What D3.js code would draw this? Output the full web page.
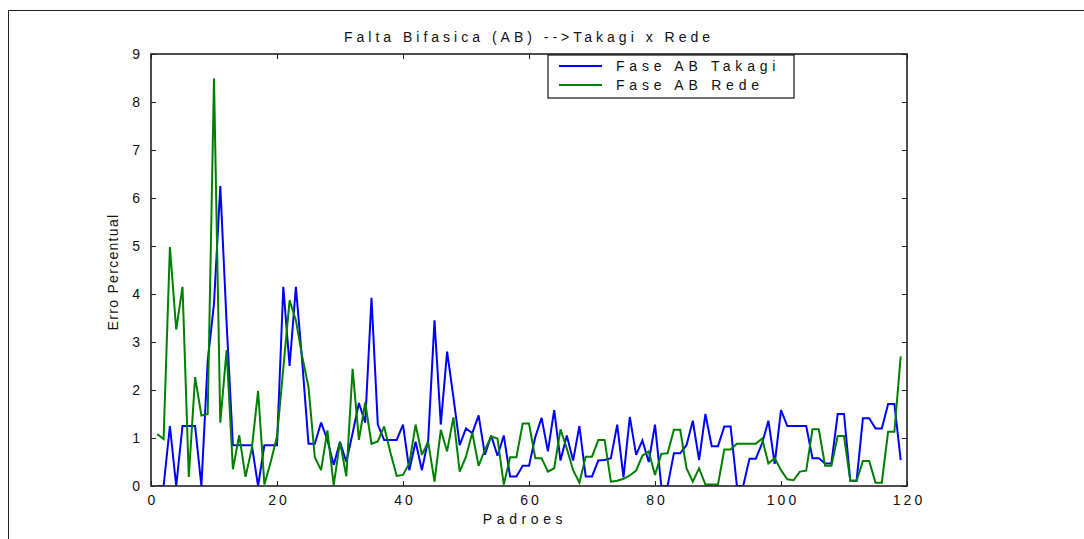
<!DOCTYPE html>
<html>
<head>
<meta charset="utf-8">
<script src="https://cdn.jsdelivr.net/npm/d3@7"></script>
<style>
  html, body { margin: 0; padding: 0; background: #fff; }
  svg { display: block; }
  text { font-family: "Liberation Sans", Arial, Helvetica, sans-serif; fill: #111; }
</style>
</head>
<body>
<svg id="chart" width="1084" height="539"></svg>
<script>
// Pattern index (x) and percentage error for each method
const padroes = d3.range(1, 120);

const takagi = [
  0, 0, 1.25, 0, 1.25, 1.25, 1.25, 0, 2.6, 3.8,
  6.25, 3.4, 0.85, 0.85, 0.85, 0.85, 0, 0.85, 0.85, 0.85,
  4.15, 2.5, 4.15, 2.6, 0.88, 0.88, 1.32, 0.96, 0.44, 0.92,
  0.5, 1.1, 1.73, 1.32, 3.92, 1.28, 0.96, 0.96, 0.96, 1.28,
  0.33, 0.92, 0.33, 0.96, 3.45, 1.28, 2.8, 1.85, 0.85, 1.2,
  1.1, 1.47, 0.65, 1.05, 0.63, 1.05, 0.2, 0.2, 0.42, 0.42,
  1.02, 1.42, 0.72, 1.58, 0.53, 1.05, 0.53, 1.25, 0.2, 0.2,
  0.53, 0.54, 0.58, 1.28, 0.18, 1.44, 0.65, 0.95, 0.5, 1.28,
  0, 0, 0.68, 0.68, 0.85, 1.36, 0.54, 1.5, 0.83, 0.83,
  1.24, 1.24, 0, 0, 0.57, 0.57, 0.89, 1.36, 0.46, 1.58,
  1.25, 1.25, 1.25, 1.25, 0.58, 0.58, 0.47, 0.47, 1.5, 1.5,
  0.11, 0.11, 1.41, 1.41, 1.2, 1.2, 1.71, 1.71, 0.54
];

const rede = [
  1.08, 0.98, 4.98, 3.26, 4.15, 0.19, 2.27, 1.47, 1.5, 8.49,
  1.32, 2.83, 0.35, 1.06, 0.19, 0.78, 1.98, 0.03, 0.5, 1.03,
  2.45, 3.87, 3.45, 2.7, 2.06, 0.6, 0.33, 1.16, 0.02, 0.92,
  0.2, 2.44, 0.96, 1.74, 0.88, 0.93, 1.24, 0.7, 0.21, 0.23,
  0.47, 1.28, 0.65, 0.92, 0.09, 1.17, 0.72, 1.43, 0.3, 0.61,
  1.11, 0.42, 0.75, 1.03, 0.99, 0.03, 0.6, 0.6, 1.3, 1.3,
  0.58, 0.58, 0.3, 0.37, 1.18, 0.78, 0.33, 0.07, 0.61, 0.61,
  0.96, 0.96, 0.09, 0.11, 0.15, 0.22, 0.32, 0.63, 0.72, 0.23,
  0.67, 0.68, 1.17, 1.17, 0.37, 0.09, 0.37, 0.03, 0.03, 0.03,
  0.76, 0.76, 0.88, 0.88, 0.88, 0.88, 0.99, 0.47, 0.58, 0.33,
  0.14, 0.12, 0.3, 0.32, 1.18, 1.18, 0.42, 0.42, 1.04, 1.04,
  0.11, 0.11, 0.52, 0.52, 0.07, 0.07, 1.13, 1.13, 2.7
];

const xTicks = [0, 20, 40, 60, 80, 100, 120];
const yTicks = [0, 1, 2, 3, 4, 5, 6, 7, 8, 9];

const seriesNames = ["Fase AB Takagi", "Fase AB Rede"];
const seriesColors = ["#0000ff", "#008000"];

const titleText = "Falta Bifasica (AB) -->Takagi x Rede";
const xLabel = "Padroes";
const yLabel = "Erro Percentual";

const svg = d3.select("#chart");
const W = 1084, H = 539;
const plot = { left: 151, right: 907, top: 54, bottom: 486 };

// outer figure frame (left and top edges)
svg.append("path")
  .attr("d", `M8.5,${H} L8.5,10.5 L${W},10.5`)
  .attr("fill", "none").attr("stroke", "#222").attr("stroke-width", 1);

const x = d3.scaleLinear().domain([0, 120]).range([plot.left, plot.right]);
const y = d3.scaleLinear().domain([0, 9]).range([plot.bottom, plot.top]);

svg.append("clipPath").attr("id", "plot-clip")
  .append("rect")
  .attr("x", plot.left).attr("y", plot.top)
  .attr("width", plot.right - plot.left).attr("height", plot.bottom - plot.top);

// data lines
const line = d3.line().x((d, i) => x(padroes[i])).y(d => y(d));
const g = svg.append("g").attr("clip-path", "url(#plot-clip)");
[takagi, rede].forEach((vals, k) => {
  g.append("path")
    .datum(vals)
    .attr("d", line)
    .attr("fill", "none")
    .attr("stroke", seriesColors[k])
    .attr("stroke-width", 2)
    .attr("stroke-linejoin", "miter")
    .attr("stroke-miterlimit", 3);
});

// axes: ticks pointing inward on all four sides
const tickLen = 5;
const axisColor = "#222";

const bottomAxis = d3.axisBottom(x).tickValues(xTicks).tickSize(-tickLen).tickSizeOuter(0)
  .tickPadding(9).tickFormat(d => String(d));
const topAxis = d3.axisTop(x).tickValues(xTicks).tickSize(-tickLen).tickSizeOuter(0).tickFormat("");
const leftAxis = d3.axisLeft(y).tickValues(yTicks).tickSize(-tickLen).tickSizeOuter(0)
  .tickPadding(11).tickFormat(d => String(d));
const rightAxis = d3.axisRight(y).tickValues(yTicks).tickSize(-tickLen).tickSizeOuter(0).tickFormat("");

function styleAxis(sel) {
  sel.select(".domain").remove();
  sel.selectAll(".tick line").attr("stroke", axisColor).attr("stroke-width", 1);
  sel.selectAll(".tick text").attr("fill", "#111").style("font-size", "14px")
    .style("font-family", '"Liberation Sans", Arial, sans-serif');
}

svg.append("g").attr("transform", `translate(0,${plot.bottom})`).call(bottomAxis)
  .call(styleAxis)
  .call(s => s.selectAll(".tick text").style("letter-spacing", "3px").attr("dx", "1.5px"));
svg.append("g").attr("transform", `translate(0,${plot.top})`).call(topAxis).call(styleAxis);
svg.append("g").attr("transform", `translate(${plot.left},0)`).call(leftAxis).call(styleAxis);
svg.append("g").attr("transform", `translate(${plot.right},0)`).call(rightAxis).call(styleAxis);

// plot box
svg.append("rect")
  .attr("x", plot.left).attr("y", plot.top)
  .attr("width", plot.right - plot.left).attr("height", plot.bottom - plot.top)
  .attr("fill", "none").attr("stroke", axisColor).attr("stroke-width", 1.6);

// title and axis labels
svg.append("text")
  .attr("x", (plot.left + plot.right) / 2).attr("y", 42)
  .attr("text-anchor", "middle")
  .style("font-size", "14px").style("letter-spacing", "4px")
  .text(titleText);

svg.append("text")
  .attr("x", (plot.left + plot.right) / 2 - 4).attr("y", 524)
  .attr("text-anchor", "middle")
  .style("font-size", "14px").style("letter-spacing", "4.6px")
  .text(xLabel);

svg.append("text")
  .attr("transform", `translate(118,${(plot.top + plot.bottom) / 2 + 2}) rotate(-90)`)
  .attr("text-anchor", "middle")
  .style("font-size", "14px").style("letter-spacing", "1.3px")
  .text(yLabel);

// legend
const legend = svg.append("g");
legend.append("rect")
  .attr("x", 548).attr("y", 55).attr("width", 246).attr("height", 43)
  .attr("fill", "#fff").attr("stroke", "#111").attr("stroke-width", 1.2);
seriesNames.forEach((name, k) => {
  const ly = 66 + k * 19;
  legend.append("line")
    .attr("x1", 559).attr("x2", 602).attr("y1", ly).attr("y2", ly)
    .attr("stroke", seriesColors[k]).attr("stroke-width", 2);
  legend.append("text")
    .attr("x", 616).attr("y", ly + 5)
    .style("font-size", "14px").style("letter-spacing", "4.8px")
    .text(name);
});
</script>
</body>
</html>
